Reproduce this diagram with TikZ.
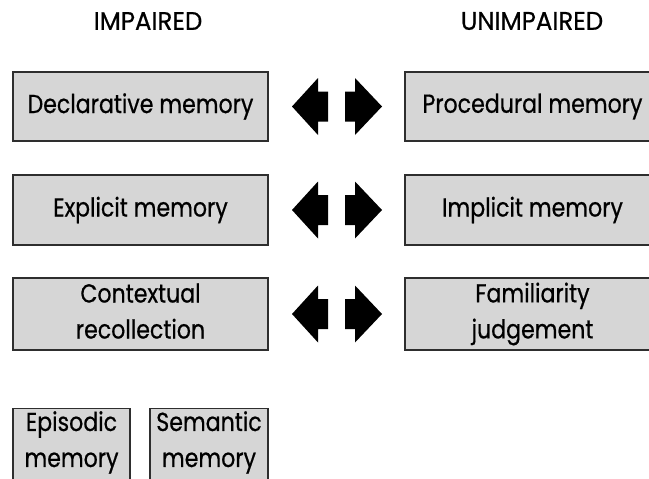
\documentclass[tikz,border=0pt]{standalone}
\usepackage{fontspec}
\setmainfont{Poppins}
\newfontfamily\boxfont{Poppins}[FakeStretch=0.85, FakeBold=0.6]
\newfontfamily\headfont{Poppins}[FakeStretch=0.96, FakeBold=0.6]
\usetikzlibrary{calc}
% equal line height and depth for two-line labels
\newcommand\linestrut{\vphantom{lj}}
\begin{document}
\begin{tikzpicture}[x=1pt,y=-1pt,
  membox/.style={draw=black!82, line width=1.3pt, fill=black!16, align=center,
    inner sep=0pt, font=\boxfont\fontsize{26}{36}\selectfont},
  boxtext/.style={anchor=north, align=center, inner sep=0pt, font=\boxfont\fontsize{26}{36}\selectfont},
  heading/.style={font=\headfont\fontsize{25.5}{30}\selectfont, anchor=center, inner sep=0pt},
  blockarrow/.pic={
    \fill[black] (-44.5,0) -- (-18.5,-28.5) -- (-18.5,-15) -- (-8.5,-15)
      -- (-8.5,15) -- (-18.5,15) -- (-18.5,28.5) -- cycle;
    \fill[black] (45.5,0) -- (18.5,-28.5) -- (18.5,-15) -- (8.5,-15)
      -- (8.5,15) -- (18.5,15) -- (18.5,28.5) -- cycle;
  }]
\useasboundingbox (0,0) rectangle (649,479);
\begin{scope}
\clip (0,0) rectangle (649,479);

% column headings
\node[heading] (impaired) at (148,21) {IMPAIRED};
\node[heading] (unimpaired) at (532,21) {UNIMPAIRED};

% impaired column
\node[membox, minimum width=255, minimum height=69] (decl) at (140.5,106.5) {Declarative memory};
\node[membox, minimum width=255, minimum height=70] (expl) at (140.5,210) {Explicit memory};
\node[membox, minimum width=255, minimum height=72] (ctx) at (140.5,314) {\linestrut Contextual\\recollection\linestrut};

% unimpaired column
\node[membox, minimum width=255, minimum height=69] (proc) at (532.5,106.5) {Procedural memory};
\node[membox, minimum width=255, minimum height=70] (impl) at (532.5,210) {Implicit memory};
\node[membox, minimum width=255, minimum height=72] (fam) at (532.5,314) {\linestrut Familiarity\\judgement\linestrut};

% contrasting pairs
\pic at ($(decl.east)!0.5!(proc.west)$) {blockarrow};
\pic at ($(expl.east)!0.5!(impl.west)$) {blockarrow};
\pic at ($(ctx.east)!0.5!(fam.west)$) {blockarrow};

% subdivisions of declarative memory
\node[membox, minimum width=117, minimum height=80, anchor=north] (epi) at (71.5,408) {};
\node[boxtext] (epit) at ($(epi.north)+(0,3)$) {Episodic\\memory};
\node[membox, minimum width=118, minimum height=80, anchor=north] (sem) at (209,408) {};
\node[boxtext] (semt) at ($(sem.north)+(0,3)$) {Semantic\\memory};
\end{scope}
\end{tikzpicture}
\end{document}
